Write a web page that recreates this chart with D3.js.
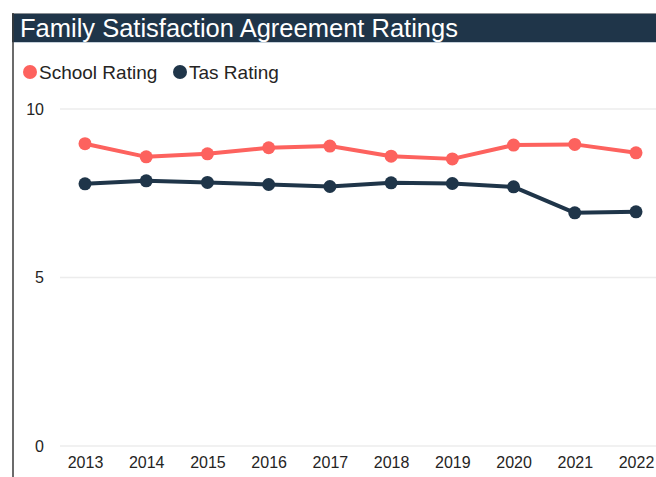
<!DOCTYPE html>
<html>
<head>
<meta charset="utf-8">
<script src="https://cdn.jsdelivr.net/npm/d3@7"></script>
<style>
  body { margin: 0; background: #fff; }
  text { font-family: "Liberation Sans", Arial, sans-serif; }
</style>
</head>
<body>
<div id="chart"></div>
<script>
"use strict"

/* Data */
let years = ["2013", "2014", "2015", "2016", "2017", "2018", "2019", "2020", "2021", "2022"];
let schoolRating = [8.97, 8.58, 8.67, 8.85, 8.9, 8.6, 8.52, 8.93, 8.95, 8.7];
let tasRating = [7.78, 7.87, 7.82, 7.76, 7.7, 7.81, 7.79, 7.69, 6.92, 6.95];
let yTicks = [0, 5, 10];
let seriesNames = ["School Rating", "Tas Rating"];
let seriesColors = ["#FD625E", "#1F3549"];

/* Drawing config */
let svgWidth = 656;
let svgHeight = 477;

let svg = d3.select("#chart")
    .append("svg")
    .attr("width", svgWidth)
    .attr("height", svgHeight);

/* Frame and title bar */
svg.append("rect")
    .attr("x", 12).attr("y", 13)
    .attr("width", svgWidth - 12).attr("height", 29)
    .attr("fill", "#1F3549");
svg.append("line")
    .attr("x1", 12).attr("x2", svgWidth)
    .attr("y1", 13.5).attr("y2", 13.5)
    .attr("stroke", "#8a8f94").attr("stroke-width", 1);
svg.append("line")
    .attr("x1", 12).attr("x2", svgWidth)
    .attr("y1", 42.5).attr("y2", 42.5)
    .attr("stroke", "#c5d0da").attr("stroke-width", 1);
svg.append("line")
    .attr("x1", 13).attr("x2", 13)
    .attr("y1", 13).attr("y2", svgHeight)
    .attr("stroke", "#3a3a3a").attr("stroke-width", 1.5);

svg.append("text")
    .attr("x", 20)
    .attr("y", 37)
    .attr("fill", "#ffffff")
    .attr("font-size", "25.5px")
    .text("Family Satisfaction Agreement Ratings");

/* Legend */
let legendX = [30, 180];
seriesNames.forEach(function (name, i) {
    svg.append("circle")
        .attr("cx", legendX[i])
        .attr("cy", 72)
        .attr("r", 7)
        .attr("fill", seriesColors[i]);
    svg.append("text")
        .attr("x", legendX[i] + 9)
        .attr("y", 72)
        .attr("dy", "0.35em")
        .attr("font-size", "19px")
        .attr("fill", "#252423")
        .text(name);
});

/* Scales */
let xScale = d3.scalePoint()
    .domain(years)
    .range([85, 636]);

let yScale = d3.scaleLinear()
    .domain([0, 10])
    .range([446, 109]);

/* Gridlines */
svg.selectAll(".grid")
    .data(yTicks)
    .join("line")
    .attr("class", "grid")
    .attr("x1", 60)
    .attr("x2", svgWidth)
    .attr("y1", function (d) { return yScale(d); })
    .attr("y2", function (d) { return yScale(d); })
    .attr("stroke", "#ececec")
    .attr("stroke-width", 1.5);

/* Y axis labels */
let yAxis = d3.axisLeft(yScale)
    .tickValues(yTicks)
    .tickSize(0)
    .tickPadding(0);
let yAxisG = svg.append("g")
    .attr("transform", "translate(44,0)")
    .call(yAxis);
yAxisG.select(".domain").remove();
yAxisG.selectAll("text")
    .attr("font-size", "16px")
    .attr("fill", "#252423");

/* X axis labels */
let xAxis = d3.axisBottom(xScale)
    .tickSize(0)
    .tickPadding(0);
let xAxisG = svg.append("g")
    .attr("transform", "translate(0,457)")
    .call(xAxis);
xAxisG.select(".domain").remove();
xAxisG.selectAll("text")
    .attr("font-size", "16px")
    .attr("fill", "#252423");

/* Lines and markers */
let allSeries = [schoolRating, tasRating];
let lineGen = d3.line()
    .x(function (d, i) { return xScale(years[i]); })
    .y(function (d) { return yScale(d); });

allSeries.forEach(function (values, s) {
    svg.append("path")
        .datum(values)
        .attr("d", lineGen)
        .attr("fill", "none")
        .attr("stroke", seriesColors[s])
        .attr("stroke-width", 4)
        .attr("stroke-linejoin", "round");

    svg.selectAll(".pt" + s)
        .data(values)
        .join("circle")
        .attr("class", "pt" + s)
        .attr("cx", function (d, i) { return xScale(years[i]); })
        .attr("cy", function (d) { return yScale(d); })
        .attr("r", 6.5)
        .attr("fill", seriesColors[s]);
});
</script>
</body>
</html>
